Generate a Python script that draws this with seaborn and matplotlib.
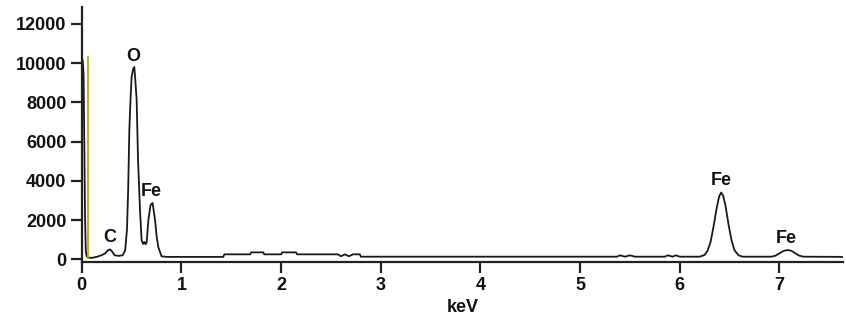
import pandas as pd
import matplotlib
matplotlib.use("Agg")
import matplotlib.pyplot as plt
import seaborn as sns

# espectro EDS (keV, cuentas)
energia_kev = [0.000, 0.010, 0.018, 0.025, 0.032, 0.040, 0.050, 0.070, 0.100, 0.150,
               0.200, 0.235, 0.265, 0.283, 0.300, 0.330, 0.370, 0.410, 0.435, 0.453,
               0.465, 0.477, 0.490, 0.500, 0.515, 0.527, 0.540, 0.550, 0.564, 0.584,
               0.600, 0.615, 0.628, 0.640, 0.651, 0.668, 0.690, 0.710, 0.735, 0.750,
               0.768, 0.800, 0.850, 1.000, 1.420, 1.430, 1.690, 1.700, 1.820, 1.830,
               2.000, 2.010, 2.150, 2.160, 2.570, 2.600, 2.640, 2.680, 2.720, 2.790,
               2.800, 3.500, 4.500, 5.370, 5.400, 5.450, 5.500, 5.550, 5.850, 5.880,
               5.930, 5.960, 6.000, 6.200, 6.250, 6.280, 6.310, 6.340, 6.370, 6.395,
               6.415, 6.435, 6.460, 6.490, 6.520, 6.550, 6.590, 6.630, 6.920, 6.960,
               7.000, 7.040, 7.080, 7.120, 7.160, 7.200, 7.240, 7.640]
cuentas = [10300, 10100, 9400, 6000, 2300, 400, 150, 80, 70, 120,
           210, 300, 470, 500, 420, 200, 170, 200, 450, 1500,
           3500, 6600, 8300, 9300, 9700, 9800, 8900, 8150, 5100, 2500,
           970, 780, 880, 760, 870, 2000, 2770, 2870, 2000, 1200,
           615, 150, 120, 120, 120, 250, 250, 350, 350, 250,
           250, 350, 350, 250, 250, 150, 250, 150, 250, 250,
           130, 130, 130, 130, 200, 130, 200, 130, 130, 200,
           130, 200, 130, 130, 220, 450, 900, 1700, 2600, 3200,
           3400, 3250, 2700, 1750, 950, 450, 200, 130, 130, 180,
           300, 420, 470, 430, 300, 180, 130, 120]

# linea marcadora amarilla
marcador_kev = [0.062]
marcador_top = [10350]

# etiquetas de picos
etiquetas = ['C', 'O', 'Fe', 'Fe', 'Fe']
etiq_kev = [0.283, 0.517, 0.700, 6.416, 7.070]
etiq_cuentas = [1090, 10330, 3430, 4000, 1070]

yticks = [0, 2000, 4000, 6000, 8000, 10000, 12000]
xticks = [0, 1, 2, 3, 4, 5, 6, 7]

sns.set_style('ticks')
plt.rcParams['font.family'] = ['Liberation Sans', 'DejaVu Sans']
plt.rcParams['font.weight'] = 'bold'

df = pd.DataFrame({'keV': energia_kev, 'cuentas': cuentas})

fig = plt.figure(figsize=(8.46, 3.25), dpi=100)
ax = fig.add_axes([0.0967, 0.195, 0.900, 0.784])

ax.vlines(marcador_kev, 0, marcador_top, color='#b5b000', lw=1.3, zorder=3)
sns.lineplot(data=df, x='keV', y='cuentas', ax=ax, color='#1a1a1a', lw=1.3,
             estimator=None, sort=False, zorder=2)

for t, xk, yc in zip(etiquetas, etiq_kev, etiq_cuentas):
    ax.text(xk, yc, t, ha='center', va='center', fontsize=13, fontweight='bold',
            color='#111111')

ax.set_xlim(0, 7.64)
ax.set_ylim(-122, 12870)
ax.set_xticks(xticks)
ax.set_yticks(yticks)
ax.set_xlabel('keV', fontsize=13, fontweight='bold', labelpad=4, color='#111111')
ax.set_ylabel('')
ax.tick_params(axis='both', labelsize=13, length=8, width=1.6, color='#222222',
               labelcolor='#111111', pad=3)
for lab in ax.get_xticklabels() + ax.get_yticklabels():
    lab.set_fontweight('bold')

sns.despine(ax=ax, top=True, right=True)
ax.spines['left'].set_linewidth(1.6)
ax.spines['bottom'].set_linewidth(1.6)
ax.spines['left'].set_color('#222222')
ax.spines['bottom'].set_color('#222222')

plt.savefig('out.png', dpi=100)
